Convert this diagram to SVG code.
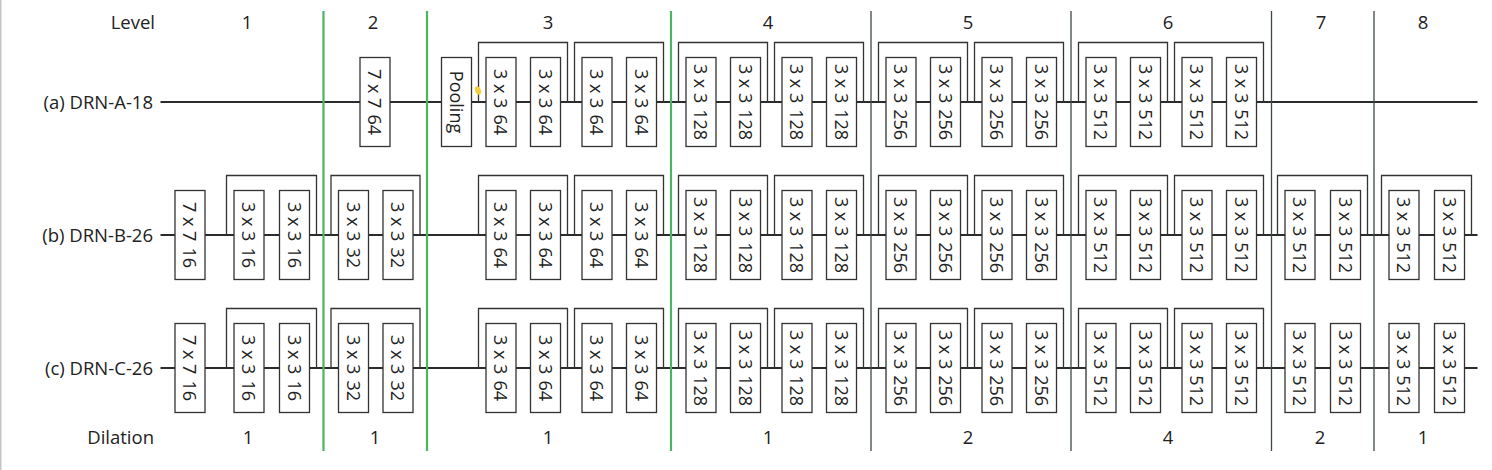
<svg xmlns="http://www.w3.org/2000/svg" width="1492" height="470" viewBox="0 0 1492 470">
<style>
.lbl{font-family:"Open Sans","Noto Sans",sans-serif;font-size:18.5px;fill:#222}
.bt{font-family:"Open Sans","Noto Sans",sans-serif;font-size:18px;fill:#222;text-anchor:middle;dominant-baseline:central}
.box{fill:#fff;stroke:#333;stroke-width:1.3}
.main{stroke:#2b2b2b;stroke-width:2;fill:none}
.res{stroke:#333;stroke-width:1.3;fill:none}
.g{stroke:#4cb462;stroke-width:2.2}
.d{stroke:#3d4a42;stroke-width:1.3}
</style>
<rect x="0" y="0" width="1492" height="470" fill="#fff"/>
<line x1="0.75" y1="0" x2="0.75" y2="470" stroke="#c4c4c4" stroke-width="1.5"/>

<g id="labels">
<text class="lbl" x="155" y="29" text-anchor="end">Level</text>
<text class="lbl" x="247" y="29" text-anchor="middle">1</text>
<text class="lbl" x="373" y="29" text-anchor="middle">2</text>
<text class="lbl" x="548" y="29" text-anchor="middle">3</text>
<text class="lbl" x="768" y="29" text-anchor="middle">4</text>
<text class="lbl" x="968" y="29" text-anchor="middle">5</text>
<text class="lbl" x="1168" y="29" text-anchor="middle">6</text>
<text class="lbl" x="1321" y="29" text-anchor="middle">7</text>
<text class="lbl" x="1423" y="29" text-anchor="middle">8</text>
<text class="lbl" x="153" y="108.5" text-anchor="end">(a) DRN-A-18</text>
<text class="lbl" x="153" y="241.5" text-anchor="end">(b) DRN-B-26</text>
<text class="lbl" x="153" y="374.5" text-anchor="end">(c) DRN-C-26</text>
<text class="lbl" x="154" y="444" text-anchor="end">Dilation</text>
<text class="lbl" x="248" y="444" text-anchor="middle">1</text>
<text class="lbl" x="375" y="444" text-anchor="middle">1</text>
<text class="lbl" x="548" y="444" text-anchor="middle">1</text>
<text class="lbl" x="768" y="444" text-anchor="middle">1</text>
<text class="lbl" x="968" y="444" text-anchor="middle">2</text>
<text class="lbl" x="1168" y="444" text-anchor="middle">4</text>
<text class="lbl" x="1320" y="444" text-anchor="middle">2</text>
<text class="lbl" x="1423" y="444" text-anchor="middle">1</text>
</g>

<g id="connectors">
<line class="main" x1="160.5" y1="102" x2="1477.5" y2="102"/>
<line class="main" x1="160.5" y1="235" x2="1477.5" y2="235"/>
<line class="main" x1="160.5" y1="368" x2="1477.5" y2="368"/>
<!-- row a residuals -->
<path class="res" d="M478.5,102V42.5H567.5V102M574.5,102V42.5H663.5V102"/>
<path class="res" d="M678.5,102V42.5H767.5V102M774.5,102V42.5H863.5V102"/>
<path class="res" d="M878.5,102V42.5H967.5V102M974.5,102V42.5H1063.5V102"/>
<path class="res" d="M1078.5,102V42.5H1167.5V102M1174.5,102V42.5H1263.5V102"/>
<!-- row b residuals -->
<path class="res" d="M226.5,235V175.5H316.5V235M331,235V175.5H420V235"/>
<path class="res" d="M478.5,235V175.5H567.5V235M574.5,235V175.5H663.5V235"/>
<path class="res" d="M678.5,235V175.5H767.5V235M774.5,235V175.5H863.5V235"/>
<path class="res" d="M878.5,235V175.5H967.5V235M974.5,235V175.5H1063.5V235"/>
<path class="res" d="M1078.5,235V175.5H1167.5V235M1174.5,235V175.5H1263.5V235"/>
<path class="res" d="M1277.5,235V175.5H1367.5V235M1381.5,235V175.5H1471.5V235"/>
<!-- row c residuals -->
<path class="res" d="M226.5,368V308.5H316.5V368M331,368V308.5H420V368"/>
<path class="res" d="M478.5,368V308.5H567.5V368M574.5,368V308.5H663.5V368"/>
<path class="res" d="M678.5,368V308.5H767.5V368M774.5,368V308.5H863.5V368"/>
<path class="res" d="M878.5,368V308.5H967.5V368M974.5,368V308.5H1063.5V368"/>
<path class="res" d="M1078.5,368V308.5H1167.5V368M1174.5,368V308.5H1263.5V368"/>
</g>

<g id="dividers">
<line class="g" x1="323.5" y1="11" x2="323.5" y2="451"/>
<line class="g" x1="427" y1="11" x2="427" y2="451"/>
<line class="g" x1="671" y1="11" x2="671" y2="451"/>
<line class="d" x1="871" y1="11" x2="871" y2="451"/>
<line class="d" x1="1071" y1="11" x2="1071" y2="451"/>
<line class="d" x1="1271.5" y1="11" x2="1271.5" y2="451"/>
<line class="d" x1="1374" y1="11" x2="1374" y2="451"/>
</g>

<defs>
<rect id="bx" class="box" x="-15" y="-44.5" width="30" height="89"/>
</defs>

<!-- Row a -->
<g id="a-conv1"><use href="#bx" x="375" y="102"/><text class="bt" transform="translate(375,102) rotate(90)">7 x 7<tspan dx="6">64</tspan></text></g>
<g id="a-pool"><use href="#bx" x="456.5" y="102"/><text class="bt" transform="translate(456.5,102) rotate(90)">Pooling</text></g>
<g id="a-l3-1"><use href="#bx" x="501" y="102"/><text class="bt" transform="translate(501,102) rotate(90)">3 x 3<tspan dx="6">64</tspan></text></g>
<g id="a-l3-2"><use href="#bx" x="545.5" y="102"/><text class="bt" transform="translate(545.5,102) rotate(90)">3 x 3<tspan dx="6">64</tspan></text></g>
<g id="a-l3-3"><use href="#bx" x="597" y="102"/><text class="bt" transform="translate(597,102) rotate(90)">3 x 3<tspan dx="6">64</tspan></text></g>
<g id="a-l3-4"><use href="#bx" x="641.5" y="102"/><text class="bt" transform="translate(641.5,102) rotate(90)">3 x 3<tspan dx="6">64</tspan></text></g>
<g id="a-l4-1"><use href="#bx" x="701" y="102"/><text class="bt" transform="translate(701,102) rotate(90)">3 x 3<tspan dx="6">128</tspan></text></g>
<g id="a-l4-2"><use href="#bx" x="745.5" y="102"/><text class="bt" transform="translate(745.5,102) rotate(90)">3 x 3<tspan dx="6">128</tspan></text></g>
<g id="a-l4-3"><use href="#bx" x="797" y="102"/><text class="bt" transform="translate(797,102) rotate(90)">3 x 3<tspan dx="6">128</tspan></text></g>
<g id="a-l4-4"><use href="#bx" x="841.5" y="102"/><text class="bt" transform="translate(841.5,102) rotate(90)">3 x 3<tspan dx="6">128</tspan></text></g>
<g id="a-l5-1"><use href="#bx" x="901" y="102"/><text class="bt" transform="translate(901,102) rotate(90)">3 x 3<tspan dx="6">256</tspan></text></g>
<g id="a-l5-2"><use href="#bx" x="945.5" y="102"/><text class="bt" transform="translate(945.5,102) rotate(90)">3 x 3<tspan dx="6">256</tspan></text></g>
<g id="a-l5-3"><use href="#bx" x="997" y="102"/><text class="bt" transform="translate(997,102) rotate(90)">3 x 3<tspan dx="6">256</tspan></text></g>
<g id="a-l5-4"><use href="#bx" x="1041.5" y="102"/><text class="bt" transform="translate(1041.5,102) rotate(90)">3 x 3<tspan dx="6">256</tspan></text></g>
<g id="a-l6-1"><use href="#bx" x="1101" y="102"/><text class="bt" transform="translate(1101,102) rotate(90)">3 x 3<tspan dx="6">512</tspan></text></g>
<g id="a-l6-2"><use href="#bx" x="1145.5" y="102"/><text class="bt" transform="translate(1145.5,102) rotate(90)">3 x 3<tspan dx="6">512</tspan></text></g>
<g id="a-l6-3"><use href="#bx" x="1197" y="102"/><text class="bt" transform="translate(1197,102) rotate(90)">3 x 3<tspan dx="6">512</tspan></text></g>
<g id="a-l6-4"><use href="#bx" x="1241.5" y="102"/><text class="bt" transform="translate(1241.5,102) rotate(90)">3 x 3<tspan dx="6">512</tspan></text></g>
<ellipse cx="478" cy="90.5" rx="2.8" ry="4.3" transform="rotate(-25 478 90.5)" fill="#f3cf3c"/>

<!-- Row b -->
<g id="b-conv1"><use href="#bx" x="190" y="235"/><text class="bt" transform="translate(190,235) rotate(90)">7 x 7<tspan dx="6">16</tspan></text></g>
<g id="b-l1-1"><use href="#bx" x="249" y="235"/><text class="bt" transform="translate(249,235) rotate(90)">3 x 3<tspan dx="6">16</tspan></text></g>
<g id="b-l1-2"><use href="#bx" x="294.5" y="235"/><text class="bt" transform="translate(294.5,235) rotate(90)">3 x 3<tspan dx="6">16</tspan></text></g>
<g id="b-l2-1"><use href="#bx" x="353.5" y="235"/><text class="bt" transform="translate(353.5,235) rotate(90)">3 x 3<tspan dx="6">32</tspan></text></g>
<g id="b-l2-2"><use href="#bx" x="398" y="235"/><text class="bt" transform="translate(398,235) rotate(90)">3 x 3<tspan dx="6">32</tspan></text></g>
<g id="b-l3-1"><use href="#bx" x="501" y="235"/><text class="bt" transform="translate(501,235) rotate(90)">3 x 3<tspan dx="6">64</tspan></text></g>
<g id="b-l3-2"><use href="#bx" x="545.5" y="235"/><text class="bt" transform="translate(545.5,235) rotate(90)">3 x 3<tspan dx="6">64</tspan></text></g>
<g id="b-l3-3"><use href="#bx" x="597" y="235"/><text class="bt" transform="translate(597,235) rotate(90)">3 x 3<tspan dx="6">64</tspan></text></g>
<g id="b-l3-4"><use href="#bx" x="641.5" y="235"/><text class="bt" transform="translate(641.5,235) rotate(90)">3 x 3<tspan dx="6">64</tspan></text></g>
<g id="b-l4-1"><use href="#bx" x="701" y="235"/><text class="bt" transform="translate(701,235) rotate(90)">3 x 3<tspan dx="6">128</tspan></text></g>
<g id="b-l4-2"><use href="#bx" x="745.5" y="235"/><text class="bt" transform="translate(745.5,235) rotate(90)">3 x 3<tspan dx="6">128</tspan></text></g>
<g id="b-l4-3"><use href="#bx" x="797" y="235"/><text class="bt" transform="translate(797,235) rotate(90)">3 x 3<tspan dx="6">128</tspan></text></g>
<g id="b-l4-4"><use href="#bx" x="841.5" y="235"/><text class="bt" transform="translate(841.5,235) rotate(90)">3 x 3<tspan dx="6">128</tspan></text></g>
<g id="b-l5-1"><use href="#bx" x="901" y="235"/><text class="bt" transform="translate(901,235) rotate(90)">3 x 3<tspan dx="6">256</tspan></text></g>
<g id="b-l5-2"><use href="#bx" x="945.5" y="235"/><text class="bt" transform="translate(945.5,235) rotate(90)">3 x 3<tspan dx="6">256</tspan></text></g>
<g id="b-l5-3"><use href="#bx" x="997" y="235"/><text class="bt" transform="translate(997,235) rotate(90)">3 x 3<tspan dx="6">256</tspan></text></g>
<g id="b-l5-4"><use href="#bx" x="1041.5" y="235"/><text class="bt" transform="translate(1041.5,235) rotate(90)">3 x 3<tspan dx="6">256</tspan></text></g>
<g id="b-l6-1"><use href="#bx" x="1101" y="235"/><text class="bt" transform="translate(1101,235) rotate(90)">3 x 3<tspan dx="6">512</tspan></text></g>
<g id="b-l6-2"><use href="#bx" x="1145.5" y="235"/><text class="bt" transform="translate(1145.5,235) rotate(90)">3 x 3<tspan dx="6">512</tspan></text></g>
<g id="b-l6-3"><use href="#bx" x="1197" y="235"/><text class="bt" transform="translate(1197,235) rotate(90)">3 x 3<tspan dx="6">512</tspan></text></g>
<g id="b-l6-4"><use href="#bx" x="1241.5" y="235"/><text class="bt" transform="translate(1241.5,235) rotate(90)">3 x 3<tspan dx="6">512</tspan></text></g>
<g id="b-l7-1"><use href="#bx" x="1300" y="235"/><text class="bt" transform="translate(1300,235) rotate(90)">3 x 3<tspan dx="6">512</tspan></text></g>
<g id="b-l7-2"><use href="#bx" x="1345.5" y="235"/><text class="bt" transform="translate(1345.5,235) rotate(90)">3 x 3<tspan dx="6">512</tspan></text></g>
<g id="b-l8-1"><use href="#bx" x="1404" y="235"/><text class="bt" transform="translate(1404,235) rotate(90)">3 x 3<tspan dx="6">512</tspan></text></g>
<g id="b-l8-2"><use href="#bx" x="1449.5" y="235"/><text class="bt" transform="translate(1449.5,235) rotate(90)">3 x 3<tspan dx="6">512</tspan></text></g>

<!-- Row c -->
<g id="c-conv1"><use href="#bx" x="190" y="368"/><text class="bt" transform="translate(190,368) rotate(90)">7 x 7<tspan dx="6">16</tspan></text></g>
<g id="c-l1-1"><use href="#bx" x="249" y="368"/><text class="bt" transform="translate(249,368) rotate(90)">3 x 3<tspan dx="6">16</tspan></text></g>
<g id="c-l1-2"><use href="#bx" x="294.5" y="368"/><text class="bt" transform="translate(294.5,368) rotate(90)">3 x 3<tspan dx="6">16</tspan></text></g>
<g id="c-l2-1"><use href="#bx" x="353.5" y="368"/><text class="bt" transform="translate(353.5,368) rotate(90)">3 x 3<tspan dx="6">32</tspan></text></g>
<g id="c-l2-2"><use href="#bx" x="398" y="368"/><text class="bt" transform="translate(398,368) rotate(90)">3 x 3<tspan dx="6">32</tspan></text></g>
<g id="c-l3-1"><use href="#bx" x="501" y="368"/><text class="bt" transform="translate(501,368) rotate(90)">3 x 3<tspan dx="6">64</tspan></text></g>
<g id="c-l3-2"><use href="#bx" x="545.5" y="368"/><text class="bt" transform="translate(545.5,368) rotate(90)">3 x 3<tspan dx="6">64</tspan></text></g>
<g id="c-l3-3"><use href="#bx" x="597" y="368"/><text class="bt" transform="translate(597,368) rotate(90)">3 x 3<tspan dx="6">64</tspan></text></g>
<g id="c-l3-4"><use href="#bx" x="641.5" y="368"/><text class="bt" transform="translate(641.5,368) rotate(90)">3 x 3<tspan dx="6">64</tspan></text></g>
<g id="c-l4-1"><use href="#bx" x="701" y="368"/><text class="bt" transform="translate(701,368) rotate(90)">3 x 3<tspan dx="6">128</tspan></text></g>
<g id="c-l4-2"><use href="#bx" x="745.5" y="368"/><text class="bt" transform="translate(745.5,368) rotate(90)">3 x 3<tspan dx="6">128</tspan></text></g>
<g id="c-l4-3"><use href="#bx" x="797" y="368"/><text class="bt" transform="translate(797,368) rotate(90)">3 x 3<tspan dx="6">128</tspan></text></g>
<g id="c-l4-4"><use href="#bx" x="841.5" y="368"/><text class="bt" transform="translate(841.5,368) rotate(90)">3 x 3<tspan dx="6">128</tspan></text></g>
<g id="c-l5-1"><use href="#bx" x="901" y="368"/><text class="bt" transform="translate(901,368) rotate(90)">3 x 3<tspan dx="6">256</tspan></text></g>
<g id="c-l5-2"><use href="#bx" x="945.5" y="368"/><text class="bt" transform="translate(945.5,368) rotate(90)">3 x 3<tspan dx="6">256</tspan></text></g>
<g id="c-l5-3"><use href="#bx" x="997" y="368"/><text class="bt" transform="translate(997,368) rotate(90)">3 x 3<tspan dx="6">256</tspan></text></g>
<g id="c-l5-4"><use href="#bx" x="1041.5" y="368"/><text class="bt" transform="translate(1041.5,368) rotate(90)">3 x 3<tspan dx="6">256</tspan></text></g>
<g id="c-l6-1"><use href="#bx" x="1101" y="368"/><text class="bt" transform="translate(1101,368) rotate(90)">3 x 3<tspan dx="6">512</tspan></text></g>
<g id="c-l6-2"><use href="#bx" x="1145.5" y="368"/><text class="bt" transform="translate(1145.5,368) rotate(90)">3 x 3<tspan dx="6">512</tspan></text></g>
<g id="c-l6-3"><use href="#bx" x="1197" y="368"/><text class="bt" transform="translate(1197,368) rotate(90)">3 x 3<tspan dx="6">512</tspan></text></g>
<g id="c-l6-4"><use href="#bx" x="1241.5" y="368"/><text class="bt" transform="translate(1241.5,368) rotate(90)">3 x 3<tspan dx="6">512</tspan></text></g>
<g id="c-l7-1"><use href="#bx" x="1300" y="368"/><text class="bt" transform="translate(1300,368) rotate(90)">3 x 3<tspan dx="6">512</tspan></text></g>
<g id="c-l7-2"><use href="#bx" x="1345.5" y="368"/><text class="bt" transform="translate(1345.5,368) rotate(90)">3 x 3<tspan dx="6">512</tspan></text></g>
<g id="c-l8-1"><use href="#bx" x="1404" y="368"/><text class="bt" transform="translate(1404,368) rotate(90)">3 x 3<tspan dx="6">512</tspan></text></g>
<g id="c-l8-2"><use href="#bx" x="1449.5" y="368"/><text class="bt" transform="translate(1449.5,368) rotate(90)">3 x 3<tspan dx="6">512</tspan></text></g>
</svg>
